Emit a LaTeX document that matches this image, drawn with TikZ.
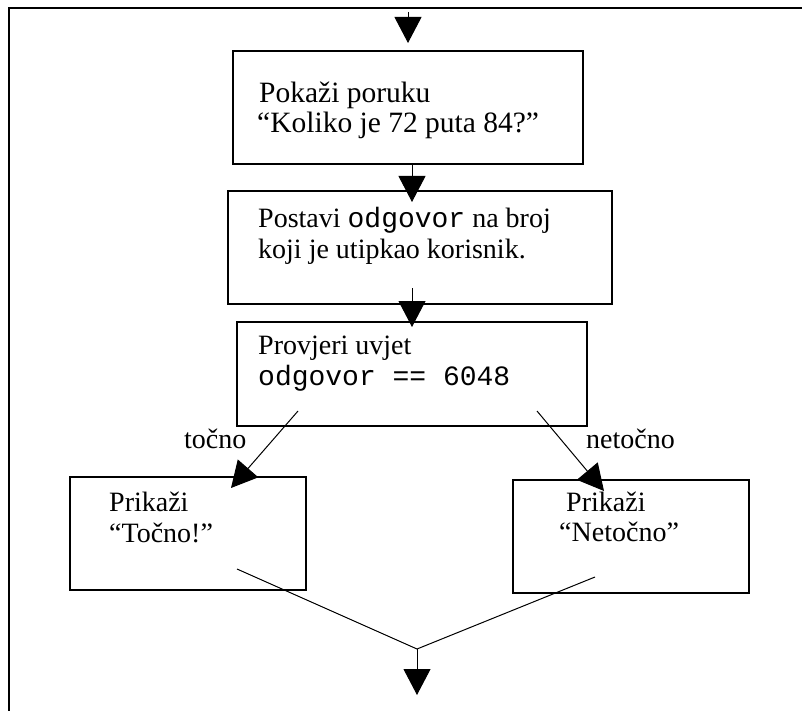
\documentclass[tikz,border=0pt]{standalone}
\usepackage{fontspec}
\setmainfont{Liberation Serif}
\setmonofont{Liberation Mono}
\usetikzlibrary{arrows.meta}
\begin{document}
\begin{tikzpicture}[x=1pt,y=-1pt,
  box/.style={draw, line width=1.2pt, rectangle, inner sep=0pt},
  txt/.style={anchor=base west, inner sep=0pt, font=\fontsize{28}{31}\selectfont},
  bigtxt/.style={txt, font=\fontsize{29.5}{33}\selectfont},
  flow/.style={line width=1pt, -{Triangle[length=26pt,width=27pt]}},
  plainline/.style={line width=1pt}]
\useasboundingbox (0,0) rectangle (802,711);
% frame
\draw[line width=2pt] (9,711) -- (9,8.5) -- (803,8.5);
% boxes
\node[box, minimum width=350pt, minimum height=113pt] (b1) at (408,107.5) {};
\node[box, minimum width=384pt, minimum height=113pt] (b2) at (420,247.5) {};
\node[box, minimum width=350pt, minimum height=104pt] (b3) at (412,374) {};
\node[box, minimum width=236pt, minimum height=113pt] (b4) at (188,533.5) {};
\node[box, minimum width=236pt, minimum height=113pt] (b5) at (631,536.5) {};
% texts
\node[bigtxt] (t1a) at (259,103) {Pokaži poruku};
\node[bigtxt] (t1b) at (257,133) {“Koliko je 72 puta 84?”};
\node[txt] (t2a) at (258,227) {Postavi \texttt{odgovor} na broj};
\node[txt] (t2b) at (258,258) {koji je utipkao korisnik.};
\node[txt] (t3a) at (258,354) {Provjeri uvjet};
\node[txt] (t3b) at (258,385) {\texttt{odgovor == 6048}};
\node[txt] (t4a) at (109,511) {Prikaži};
\node[txt] (t4b) at (109,542) {“Točno!”};
\node[txt] (t5a) at (566,511) {Prikaži};
\node[txt] (t5b) at (559,541) {“Netočno”};
\node[txt] (l1) at (184,448) {točno};
\node[txt] (l2) at (586,448) {netočno};
% connector points
\coordinate (s0) at (408,12);
\coordinate (e0) at (408,43);
\coordinate (s1) at (412,164);
\coordinate (e1) at (412,202);
\coordinate (s2) at (412,288);
\coordinate (e2) at (412,327);
\coordinate (s3) at (298,411);
\coordinate (e3) at (231,488);
\coordinate (s4) at (537,411);
\coordinate (e4) at (604,491);
\coordinate (m1) at (237,569);
\coordinate (m2) at (595,577);
\coordinate (j) at (417,649);
\coordinate (e5) at (417,695);
% connectors
\draw[flow] (s0) -- (e0);
\draw[flow] (s1) -- (e1);
\draw[flow] (s2) -- (e2);
\draw[flow] (s3) -- (e3);
\draw[flow] (s4) -- (e4);
\draw[plainline] (m1) -- (j) -- (m2);
\draw[flow] (j) -- (e5);
\end{tikzpicture}
\end{document}
